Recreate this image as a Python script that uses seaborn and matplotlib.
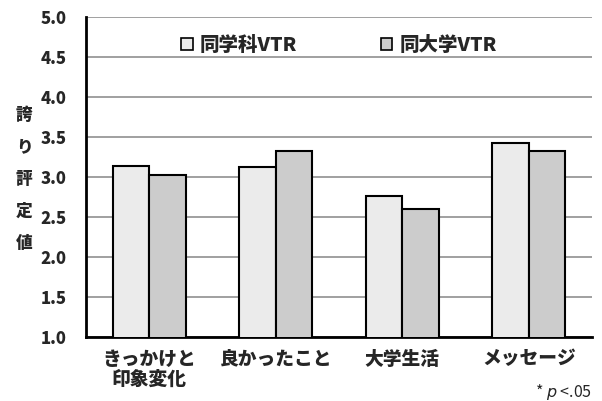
import matplotlib
matplotlib.use("Agg")
import matplotlib.pyplot as plt
import seaborn as sns
import pandas as pd

categories = ["きっかけと\n印象変化", "良かったこと", "大学生活", "メッセージ"]
series_names = ["同学科VTR", "同大学VTR"]
same_dept = [3.14, 3.12, 2.76, 3.42]
same_univ = [3.03, 3.33, 2.60, 3.33]
yticks = [1.0, 1.5, 2.0, 2.5, 3.0, 3.5, 4.0, 4.5, 5.0]
ylabel = "誇り評定値"
note = "* $\\it{p}$ <.05"

sns.set_theme(style="white")
plt.rcParams['font.family'] = ['Noto Sans CJK JP', 'DejaVu Sans']

W = "heavy"

df = pd.DataFrame({
    "cat": categories * 2,
    "series": [series_names[0]] * 4 + [series_names[1]] * 4,
    "value": same_dept + same_univ,
})

fig = plt.figure(figsize=(6.02, 4.01), dpi=100)
ax = fig.add_axes([86/602, 1 - 337/401, (592-86)/602, (337-17)/401])

sns.barplot(data=df, x="cat", y="value", hue="series", ax=ax,
            palette=["#EBEBEB", "#CCCCCC"], edgecolor="black", linewidth=1.5,
            width=0.58, gap=0, errorbar=None, zorder=3)

ax.set_ylim(1.0, 5.0)
ax.set_yticks(yticks)
ax.set_yticklabels([f"{v:.1f}" for v in yticks], fontsize=12, fontweight=W)
ax.set_xlim(-0.5, 3.5)
ax.set_xlabel("")
ax.set_ylabel("")
ax.tick_params(axis="x", length=0, pad=9, labelsize=13.5)
ax.tick_params(axis="y", length=0, pad=14)
for lbl in ax.get_xticklabels():
    lbl.set_fontweight(W)
    lbl.set_linespacing(1.1)
ax.yaxis.grid(True, color="#999999", linewidth=1.3, zorder=0)
ax.set_axisbelow(True)
for s in ["top", "right"]:
    ax.spines[s].set_visible(False)
for s in ["left", "bottom"]:
    ax.spines[s].set_color("black")
    ax.spines[s].set_linewidth(2)

leg = ax.legend(loc="upper center", bbox_to_anchor=(0.5, 0.995), ncol=2, frameon=False,
                prop={"size": 14, "weight": W}, handlelength=0.6, handleheight=0.6,
                handletextpad=0.35, columnspacing=4.3)
for h in leg.legend_handles:
    h.set_edgecolor("black")
    h.set_linewidth(1.2)

fig.text(24/602, 1 - 179/401, "\n".join(ylabel), ha="center", va="center",
         fontsize=12, fontweight=W, linespacing=2.0)
fig.text(592/602, 1 - 392/401, note, ha="right", va="center", fontsize=11.5)

fig.savefig("out.png", dpi=100)
